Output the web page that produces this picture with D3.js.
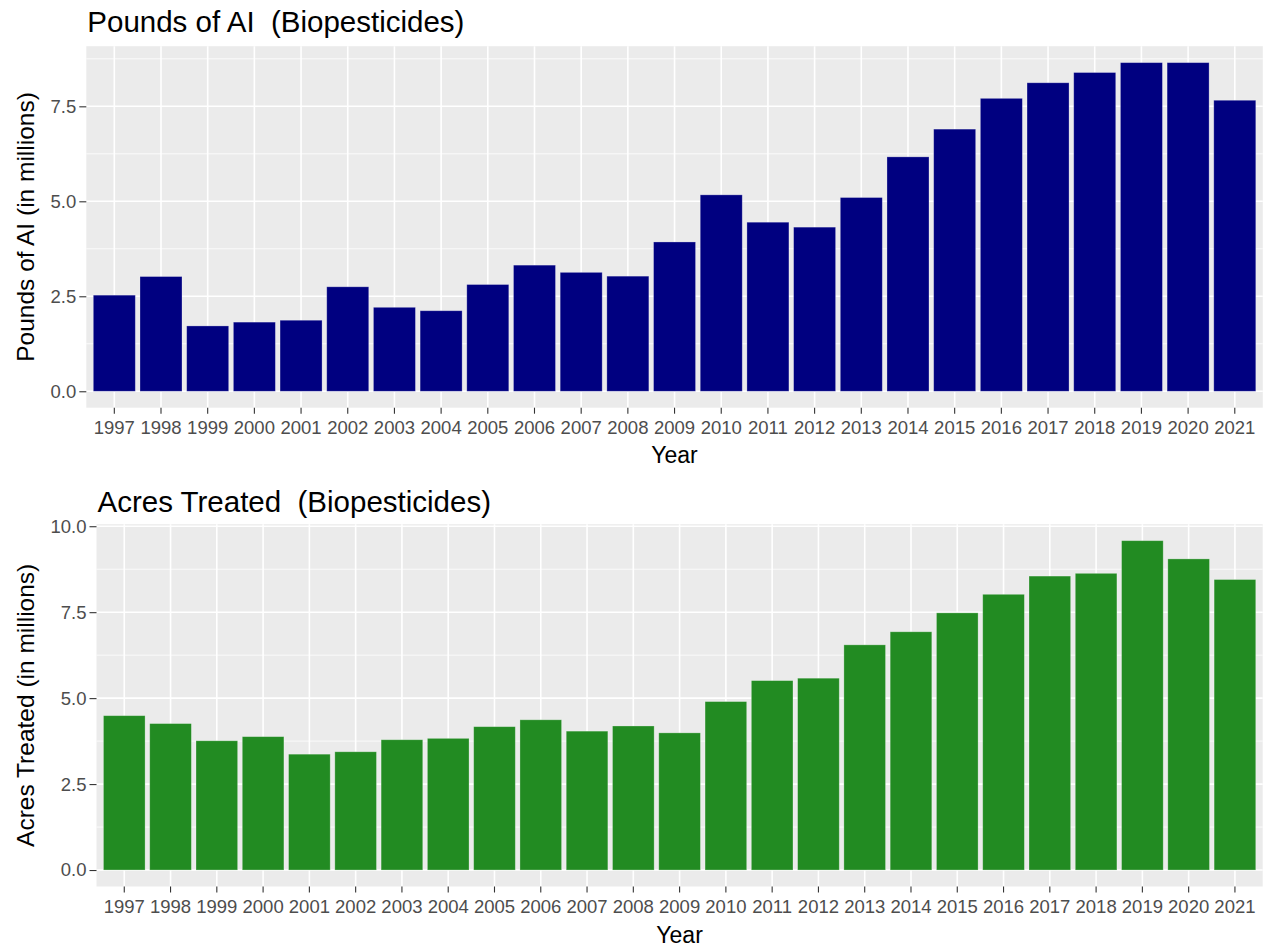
<!DOCTYPE html>
<html>
<head>
<meta charset="utf-8">
<script src="https://cdn.jsdelivr.net/npm/d3@7"></script>
<style>
  body { margin: 0; background: #fff; }
  text { font-family: "Liberation Sans", Arial, sans-serif; }
</style>
</head>
<body>
<svg id="chart"></svg>
<script>
const years = ["1997","1998","1999","2000","2001","2002","2003","2004","2005","2006","2007","2008","2009",
  "2010","2011","2012","2013","2014","2015","2016","2017","2018","2019","2020","2021"];
const poundsAI = [2.53, 3.02, 1.72, 1.82, 1.87, 2.75, 2.21, 2.12, 2.81, 3.32, 3.13, 3.03, 3.93,
  5.17, 4.45, 4.32, 5.10, 6.17, 6.90, 7.71, 8.12, 8.39, 8.65, 8.65, 7.66];
const acresTreated = [4.49, 4.26, 3.76, 3.88, 3.37, 3.44, 3.79, 3.83, 4.17, 4.37, 4.04, 4.19, 3.99,
  4.90, 5.51, 5.58, 6.55, 6.93, 7.48, 8.02, 8.55, 8.63, 9.58, 9.05, 8.45];
const poundsTicks = [0, 2.5, 5, 7.5];
const acresTicks = [0, 2.5, 5, 7.5, 10];

const canvasWidth = 1265;
const canvasHeight = 947;

const svg = d3.select("#chart")
  .attr("width", canvasWidth)
  .attr("height", canvasHeight);

function drawPanel(opts) {
  const { values, ticks, fill, title, yTitle, left, right, top, bottom, xTitleY, titleY } = opts;
  const g = svg.append("g");
  const maxV = d3.max(values);
  // ggplot style 5% expansion both ends
  const y = d3.scaleLinear()
    .domain([-0.05 * maxV, 1.05 * maxV])
    .range([bottom, top]);
  const x = d3.scaleBand()
    .domain(years)
    .range([left, right])
    .paddingInner(0.1)
    .paddingOuter(0.15);

  g.append("rect")
    .attr("x", left).attr("y", top)
    .attr("width", right - left).attr("height", bottom - top)
    .attr("fill", "#ebebeb");

  // minor grid
  const minor = ticks.slice(0, -1).map((t, i) => (t + ticks[i + 1]) / 2);
  minor.push(ticks[ticks.length - 1] + 1.25);
  g.selectAll(".minor")
    .data(minor.filter(m => y(m) > top)).enter()
    .append("line")
    .attr("x1", left).attr("x2", right)
    .attr("y1", d => y(d)).attr("y2", d => y(d))
    .attr("stroke", "#fff").attr("stroke-width", 0.8);

  g.selectAll(".majory")
    .data(ticks).enter()
    .append("line")
    .attr("x1", left).attr("x2", right)
    .attr("y1", d => y(d)).attr("y2", d => y(d))
    .attr("stroke", "#fff").attr("stroke-width", 1.6);

  g.selectAll(".majorx")
    .data(years).enter()
    .append("line")
    .attr("x1", d => x(d) + x.bandwidth() / 2).attr("x2", d => x(d) + x.bandwidth() / 2)
    .attr("y1", top).attr("y2", bottom)
    .attr("stroke", "#fff").attr("stroke-width", 1.6);

  g.selectAll(".bar")
    .data(values).enter()
    .append("rect")
    .attr("x", (d, i) => x(years[i]))
    .attr("width", x.bandwidth())
    .attr("y", d => y(d))
    .attr("height", d => y(0) - y(d))
    .attr("fill", fill)
    .attr("stroke", "rgba(255,255,255,0.35)")
    .attr("stroke-width", 0.8);

  // axes
  const yAxis = d3.axisLeft(y).tickValues(ticks).tickFormat(d3.format(".1f")).tickSize(7).tickPadding(3);
  const ya = g.append("g").attr("transform", `translate(${left},0)`).call(yAxis);
  const xAxis = d3.axisBottom(x).tickSize(6).tickPadding(7);
  const xa = g.append("g").attr("transform", `translate(0,${bottom})`).call(xAxis);
  [ya, xa].forEach(a => {
    a.select(".domain").remove();
    a.selectAll("line").attr("stroke", "#333").attr("stroke-width", 1.1);
    a.selectAll("text").attr("fill", "#4d4d4d").style("font-size", "18.5px")
      .style("font-family", "'Liberation Sans', Arial, sans-serif");
  });

  g.append("text")
    .attr("x", (left + right) / 2).attr("y", xTitleY)
    .attr("text-anchor", "middle")
    .style("font-size", "23px")
    .text("Year");

  g.append("text")
    .attr("transform", `translate(34,${(top + bottom) / 2}) rotate(-90)`)
    .attr("text-anchor", "middle")
    .style("font-size", "24.5px")
    .text(yTitle);

  g.append("text")
    .attr("x", left + 1).attr("y", titleY)
    .style("font-size", "29.5px")
    .attr("xml:space", "preserve")
    .style("white-space", "pre")
    .text(title);
}

drawPanel({
  values: poundsAI, ticks: poundsTicks, fill: "#000080",
  title: "Pounds of AI  (Biopesticides)", yTitle: "Pounds of AI (in millions)",
  left: 86.3, right: 1262.8, top: 46.2, bottom: 407.7, xTitleY: 463, titleY: 32
});

drawPanel({
  values: acresTreated, ticks: acresTicks, fill: "#228b22",
  title: "Acres Treated  (Biopesticides)", yTitle: "Acres Treated (in millions)",
  left: 96.5, right: 1262.7, top: 524.2, bottom: 886.5, xTitleY: 943, titleY: 512
});
</script>
</body>
</html>
